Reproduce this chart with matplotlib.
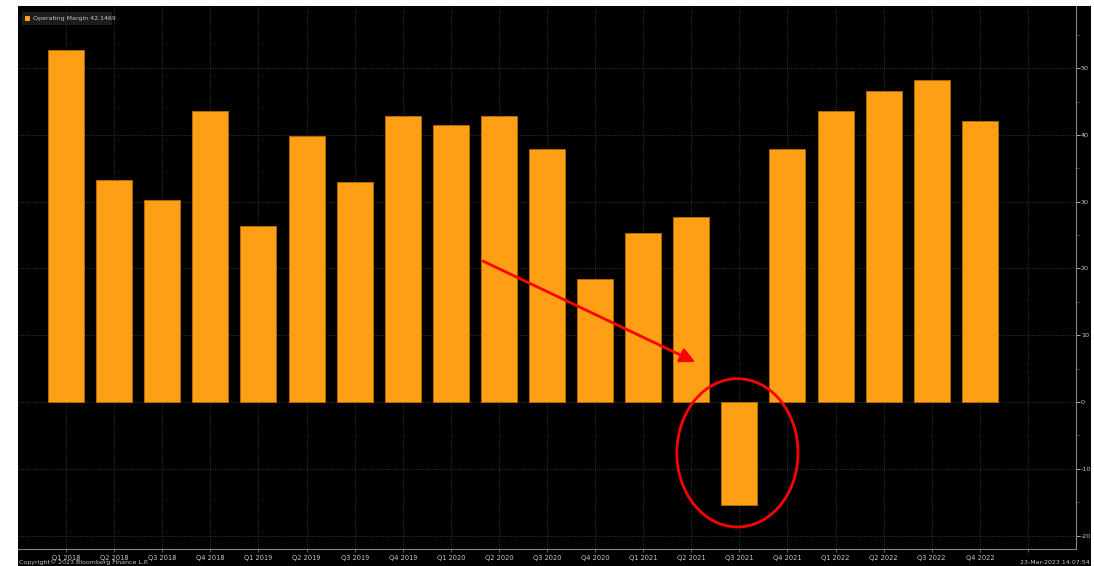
import numpy as np
import matplotlib.pyplot as plt
from matplotlib.patches import Rectangle, Ellipse

plt.rcParams["axes.unicode_minus"] = False

quarters = ["Q1 2018", "Q2 2018", "Q3 2018", "Q4 2018",
            "Q1 2019", "Q2 2019", "Q3 2019", "Q4 2019",
            "Q1 2020", "Q2 2020", "Q3 2020", "Q4 2020",
            "Q1 2021", "Q2 2021", "Q3 2021", "Q4 2021",
            "Q1 2022", "Q2 2022", "Q3 2022", "Q4 2022"]
margin = [52.7, 33.2, 30.2, 43.6,
          26.3, 39.8, 32.9, 42.8,
          41.5, 42.8, 37.9, 18.4,
          25.3, 27.7, -15.4, 37.9,
          43.6, 46.6, 48.2, 42.1469]
y_ticks = [-20, -10, 0, 10, 20, 30, 40, 50]

orange = "#ff9f15"
txt = "#c8c8c8"

fig = plt.figure(figsize=(10.94, 5.66), dpi=100, facecolor="white")
# black terminal panel behind everything
fig.patches.append(Rectangle((18 / 1094, 0), (1091 - 18) / 1094, 1 - 6 / 566,
                             transform=fig.transFigure, facecolor="black",
                             edgecolor="none", zorder=-10))

ax = fig.add_axes([18 / 1094, 1 - 549 / 566, (1076 - 18) / 1094, (549 - 6) / 566])
ax.set_facecolor("black")

x = np.arange(len(quarters))
ax.bar(x, margin, width=0.75, color=orange, edgecolor="#b86e00", linewidth=0.6, zorder=2)

ax.set_xlim(-1, 21)
ax.set_ylim(-22, 59.3)

ax.set_xticks(list(x) + [20])
ax.set_xticklabels(quarters + [""], fontsize=4.8, color=txt)
ax.set_yticks(y_ticks)
ax.set_yticks(np.arange(-20, 60, 5), minor=True)
ax.yaxis.tick_right()
ax.tick_params(axis="y", which="major", labelsize=4.6, labelcolor=txt, colors=txt,
               length=3, width=0.6, pad=0.5)
ax.tick_params(axis="y", which="minor", colors="#666666", length=2, width=0.5)
ax.tick_params(axis="x", colors="#888888", labelcolor=txt, length=2, width=0.5, pad=2)

ax.grid(True, color="#444444", linestyle=":", linewidth=0.6, zorder=1)
for s in ["top", "left"]:
    ax.spines[s].set_visible(False)
for s in ["right", "bottom"]:
    ax.spines[s].set_color("#888888")
    ax.spines[s].set_linewidth(0.8)

# legend box
fig.patches.append(Rectangle((22 / 1094, 1 - 25 / 566), 90 / 1094, 13 / 566,
                             transform=fig.transFigure, facecolor="#1c1c1c",
                             edgecolor="none", zorder=3))
fig.patches.append(Rectangle((25 / 1094, 1 - 21 / 566), 5 / 1094, 5 / 566,
                             transform=fig.transFigure, facecolor=orange,
                             edgecolor="none", zorder=4))
fig.text(33 / 1094, 1 - 18.5 / 566, "Operating Margin 42.1469", fontsize=4.5,
         color=txt, va="center", ha="left", zorder=5)

# annotations
ax.annotate("", xy=(13.08, 6.0), xytext=(8.67, 21.1),
            arrowprops=dict(arrowstyle="-|>", color="#ff0000", lw=2,
                            mutation_scale=22, shrinkA=0, shrinkB=0), zorder=6)
ax.add_patch(Ellipse((13.96, -7.6), 2.52, 22.2, fill=False, edgecolor="#ff0000",
                     linewidth=2, zorder=6))

fig.text(19 / 1094, 1 - 562 / 566, "Copyright\u00a9 2023 Bloomberg Finance L.P.",
         fontsize=4.5, color=txt, va="center", ha="left")
fig.text(1090 / 1094, 1 - 562 / 566, "23-Mar-2023 14:07:54",
         fontsize=4.5, color=txt, va="center", ha="right")

fig.savefig("out.png", dpi=100, facecolor="white")
